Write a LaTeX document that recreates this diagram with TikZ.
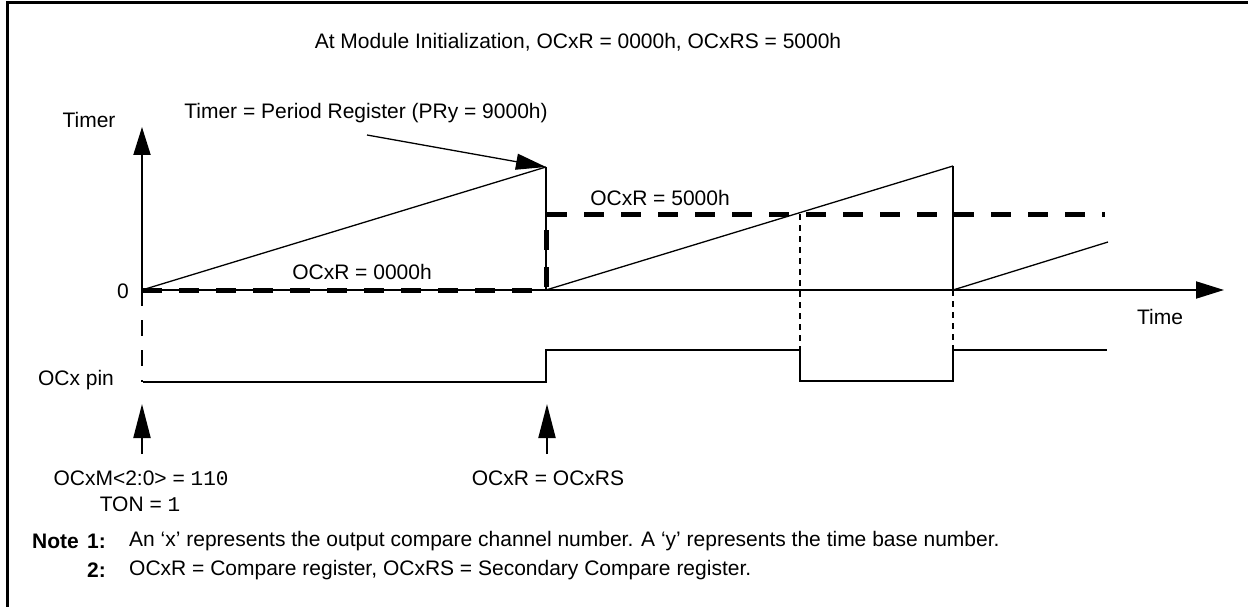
\documentclass[tikz,border=0pt]{standalone}
\usepackage{fontspec}
\setmainfont{Liberation Sans}
\newfontfamily\monofont{Liberation Mono}
\usetikzlibrary{arrows.meta}
\newcommand{\mainsz}{\fontsize{21pt}{25pt}\selectfont}
\newcommand{\notesz}{\fontsize{21pt}{25pt}\selectfont}
\tikzset{
  lbl/.style={inner sep=0pt, font=\mainsz},
  notelbl/.style={inner sep=0pt, anchor=west, font=\notesz},
  notehead/.style={inner sep=0pt, anchor=west, font=\notesz\bfseries},
  axis/.style={line width=2pt},
  bigtip/.style={-{Triangle[length=28pt,width=17pt]}},
  ramp/.style={line width=1.3pt},
  wave/.style={line width=2pt},
  ocr/.style={line width=5pt, dash pattern=on 20pt off 17pt},
  guide/.style={line width=1.5pt, dash pattern=on 6pt off 5pt},
  startguide/.style={line width=2pt, dash pattern=on 16pt off 14pt},
}
\begin{document}
\begin{tikzpicture}[x=1pt,y=-1pt]
\useasboundingbox (0,0) rectangle (1248,607);
\fill[white] (0,0) rectangle (1248,607);
% frame (continues beyond right and bottom edges)
\draw[line width=3pt] (7,620) -- (7,3) -- (1260,3);

% key coordinates
\coordinate (O) at (142,290);
\coordinate (Ytop) at (142,127);
\coordinate (Tend) at (1224,290);
\coordinate (P1) at (546,167);
\coordinate (Z1) at (546,290);
\coordinate (P2) at (953,166);
\coordinate (Z2) at (953,290);
\coordinate (P3) at (1108,242);
\coordinate (R1) at (546,214);
\coordinate (R2) at (1105,214);
\coordinate (X1) at (800,214);

% title
\node[lbl] (title) at (578,42) {At Module Initialization, OCxR = 0000h, OCxRS = 5000h};

% axes
\draw[axis,bigtip] (O) -- (Ytop);
\draw[axis,bigtip] (O) -- (Tend);
\node[lbl] (timer) at (89,120) {Timer};
\node[lbl] (zero) at (123,291) {0};
\node[lbl] (time) at (1160,317) {Time};

% timer ramps
\draw[ramp] (O) -- (P1);
\draw[line width=2pt] (P1) -- (Z1);
\draw[ramp] (Z1) -- (P2);
\draw[line width=2pt] (P2) -- (Z2);
\draw[ramp] (Z2) -- (P3);

% period register label
\node[lbl] (prlbl) at (366,113) {Timer = Period Register (PRy = 9000h)};
\coordinate (prstart) at (367,135);
\draw[line width=1.3pt,-{Triangle[length=30pt,width=16pt]}] (prstart) -- (P1);

% OCxR compare value (thick dashed)
\draw[ocr] (O) -- (Z1) -- (R1) -- (R2);
\node[lbl] (ocr0) at (362,272) {OCxR = 0000h};
\node[lbl] (ocr5) at (660,198) {OCxR = 5000h};

% OCx pin waveform
\coordinate (W0) at (143,382);
\coordinate (W1) at (546,382);
\coordinate (W2) at (546,350);
\coordinate (W3) at (800,350);
\coordinate (W4) at (800,381);
\coordinate (W5) at (953,381);
\coordinate (W6) at (953,350);
\coordinate (W7) at (1107,350);
\draw[wave] (W0) -- (W1) -- (W2) -- (W3) -- (W4) -- (W5) -- (W6) -- (W7);
\node[lbl] (pin) at (76,380) {OCx pin};

% guides
\coordinate (G0) at (142,382);
\draw[startguide] (O) -- (G0);
\draw[guide] (X1) -- (W3);
\draw[guide] (Z2) -- (W6);

% event arrows
\coordinate (A1b) at (142,454);
\coordinate (A1t) at (142,404);
\coordinate (A2b) at (547,454);
\coordinate (A2t) at (547,404);
\draw[line width=2pt,-{Triangle[length=34pt,width=17pt]}] (A1b) -- (A1t);
\draw[line width=2pt,-{Triangle[length=34pt,width=17pt]}] (A2b) -- (A2t);
\node[lbl] (ocm) at (141,478) {OCxM<2:0> = {\monofont\fontsize{21pt}{25pt}\selectfont 110}};
\node[lbl] (ton) at (140,504) {TON = {\monofont\fontsize{21pt}{25pt}\selectfont 1}};
\node[lbl] (eqrs) at (548,478) {OCxR = OCxRS};

% notes
\node[notehead] (note) at (32,541) {Note};
\node[notehead] (n1) at (87,541) {1:};
\node[notelbl] (t1) at (129,541) {An `x' represents the output compare channel number. A `y' represents the time base number.};
\node[notehead] (n2) at (87,570) {2:};
\node[notelbl] (t2) at (129,570) {OCxR = Compare register, OCxRS = Secondary Compare register.};
\end{tikzpicture}
\end{document}
